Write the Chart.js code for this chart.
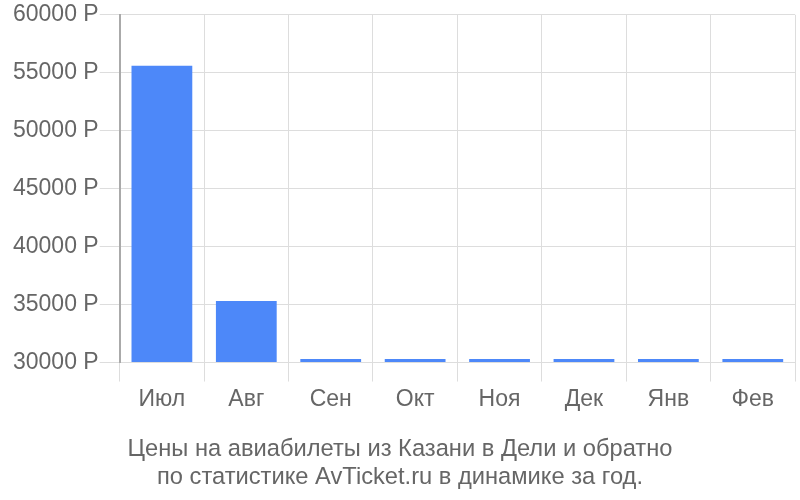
<!DOCTYPE html>
<html><head><meta charset="utf-8">
<script src="https://cdn.jsdelivr.net/npm/chart.js@4"></script>
<style>html,body{margin:0;padding:0;background:#fff}#w{width:800px;height:500px}</style>
</head><body><div id="w"><canvas id="c"></canvas></div>
<script>
const categories = ["Июл","Авг","Сен","Окт","Ноя","Дек","Янв","Фев"];
const prices = [55600, 35300, 30300, 30300, 30300, 30300, 30300, 30300];
const titleLines = ["Цены на авиабилеты из Казани в Дели и обратно","по статистике AvTicket.ru в динамике за год."];
const yMin = 30000, yMax = 60000, yStep = 5000;
const FONT = 'Liberation Sans, Arial, sans-serif';

new Chart(document.getElementById('c'), {
  type: 'bar',
  data: { labels: categories, datasets: [{ data: prices, backgroundColor: '#4d88f9', borderWidth: 0, base: yMin }] },
  options: {
    responsive: true, maintainAspectRatio: false, animation: false,
    layout: { padding: { top: 3, right: 5, left: 5, bottom: 8 } },
    plugins: {
      legend: { display: false }, tooltip: { enabled: false },
      title: { display: true, position: 'bottom', text: titleLines, color: '#666',
        font: { family: FONT, size: 23.7, weight: 'normal' },
        padding: { top: 18, bottom: 0 }, lineHeight: 1.17 }
    },
    scales: {
      x: {
        grid: { color: '#ddd', tickLength: 19, drawOnChartArea: true, offset: true },
        border: { color: '#ddd' },
        ticks: { color: '#666', font: { family: FONT, size: 23 }, padding: 4 }
      },
      y: {
        min: yMin, max: yMax,
        afterFit: s => { s.width += 7; },
        grid: { color: '#ddd', tickLength: 20 },
        border: { color: '#aaa', width: 2 },
        ticks: { stepSize: yStep, color: '#666', padding: 1,
          font: { family: FONT, size: 23 },
          callback: v => v + ' Р' }
      }
    }
  }
});
</script></body></html>
